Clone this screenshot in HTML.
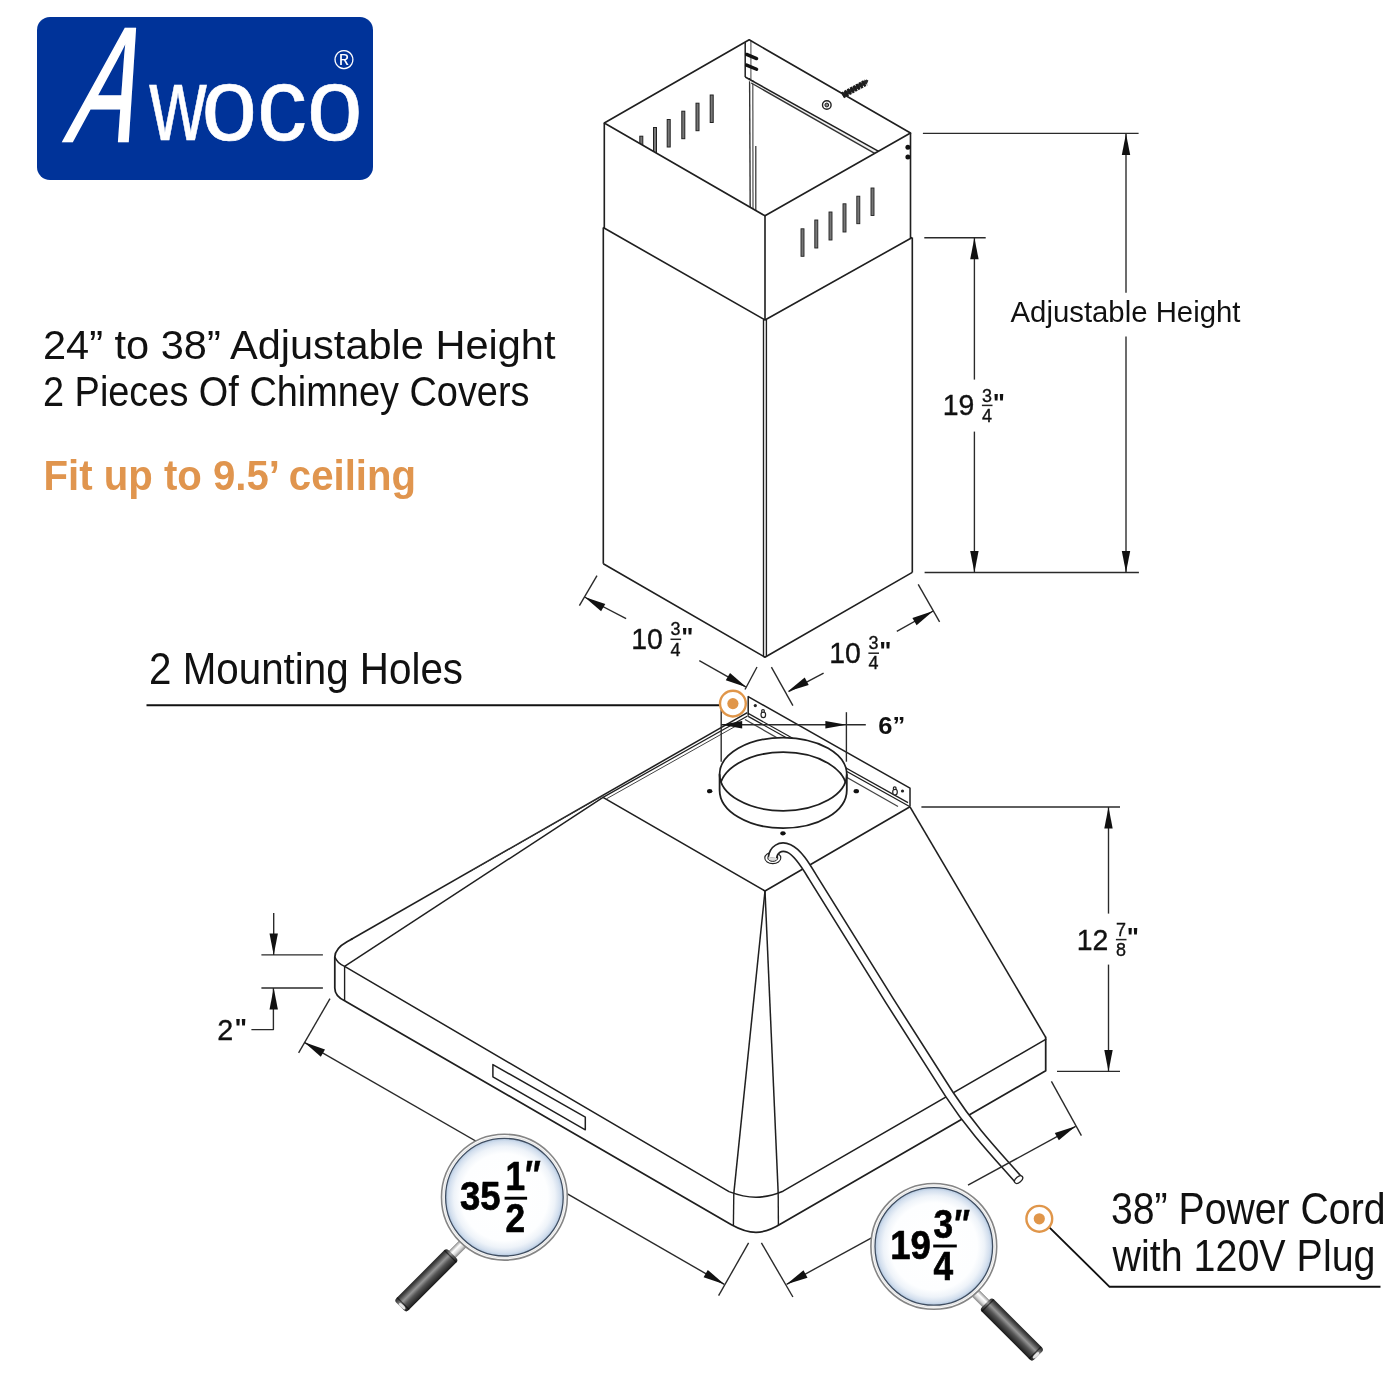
<!DOCTYPE html>
<html lang="en">
<head>
<meta charset="utf-8">
<title>Awoco Range Hood Dimensions</title>
<style>
html,body{margin:0;padding:0;background:#fff;}
body{width:1400px;height:1400px;overflow:hidden;}
svg{display:block;font-family:"Liberation Sans",sans-serif;will-change:transform;}
</style>
</head>
<body>
<svg width="1400" height="1400" viewBox="0 0 1400 1400">
<defs>
<radialGradient id="lens" cx="50%" cy="50%" r="50%">
<stop offset="0" stop-color="#ffffff"/>
<stop offset="0.74" stop-color="#fdfeff"/>
<stop offset="0.86" stop-color="#eef3f9"/>
<stop offset="0.95" stop-color="#d3dfee"/>
<stop offset="1" stop-color="#b3c8e0"/>
</radialGradient>
<linearGradient id="grip1" x1="0" y1="1" x2="0" y2="0">
<stop offset="0" stop-color="#262626"/>
<stop offset="0.16" stop-color="#4a4a4a"/>
<stop offset="0.4" stop-color="#959595"/>
<stop offset="0.62" stop-color="#555555"/>
<stop offset="0.88" stop-color="#2c2c2c"/>
<stop offset="1" stop-color="#181818"/>
</linearGradient>
<linearGradient id="grip2" x1="0" y1="0" x2="0" y2="1">
<stop offset="0" stop-color="#262626"/>
<stop offset="0.16" stop-color="#4a4a4a"/>
<stop offset="0.4" stop-color="#959595"/>
<stop offset="0.62" stop-color="#555555"/>
<stop offset="0.88" stop-color="#2c2c2c"/>
<stop offset="1" stop-color="#181818"/>
</linearGradient>
<linearGradient id="neck1" x1="0" y1="1" x2="0" y2="0">
<stop offset="0" stop-color="#9a9a9a"/>
<stop offset="0.35" stop-color="#ffffff"/>
<stop offset="0.7" stop-color="#d8d8d8"/>
<stop offset="1" stop-color="#8a8a8a"/>
</linearGradient>
<linearGradient id="neck2" x1="0" y1="0" x2="0" y2="1">
<stop offset="0" stop-color="#9a9a9a"/>
<stop offset="0.35" stop-color="#ffffff"/>
<stop offset="0.7" stop-color="#d8d8d8"/>
<stop offset="1" stop-color="#8a8a8a"/>
</linearGradient>
<clipPath id="clipTopOpen"><polygon points="604.3,123 749.2,39.8 910.5,133 765,215.8"/></clipPath>
<clipPath id="clipTopEll"><ellipse cx="783.2" cy="774.2" rx="63.6" ry="36.6"/></clipPath>
</defs>
<rect x="0" y="0" width="1400" height="1400" fill="#ffffff"/>
<rect x="37" y="17" width="336" height="163" rx="13" ry="13" fill="#003399"/>
<g fill="#ffffff" aria-label="Awoco"><text transform="translate(63,141) skewX(-17) scale(0.6,1)" font-size="163" x="0" y="0" stroke="#ffffff" stroke-width="2.4">A</text><text x="149.5" y="140" font-size="104" stroke="#ffffff" stroke-width="0.6"><tspan textLength="57" lengthAdjust="spacingAndGlyphs">w</tspan><tspan dx="-5" textLength="161" lengthAdjust="spacingAndGlyphs">oco</tspan></text></g>
<text x="344" y="69.4" font-size="27" fill="#ffffff" text-anchor="middle">®</text>
<text x="43.0" y="359.2" font-size="40.6" font-weight="normal" font-style="normal" fill="#111" text-anchor="start" textLength="512.5" lengthAdjust="spacingAndGlyphs" >24” to 38” Adjustable Height</text>
<text x="43.0" y="405.6" font-size="42.3" font-weight="normal" font-style="normal" fill="#111" text-anchor="start" textLength="486.5" lengthAdjust="spacingAndGlyphs" >2 Pieces Of Chimney Covers</text>
<text x="43.5" y="490.3" font-size="42.6" font-weight="bold" font-style="normal" fill="#e0954e" text-anchor="start" textLength="372.5" lengthAdjust="spacingAndGlyphs" >Fit up to 9.5’ ceiling</text>
<text x="149.0" y="683.6" font-size="43.6" font-weight="normal" font-style="normal" fill="#111" text-anchor="start" textLength="314.0" lengthAdjust="spacingAndGlyphs" >2 Mounting Holes</text>
<text x="1111.0" y="1223.8" font-size="43.6" font-weight="normal" font-style="normal" fill="#111" text-anchor="start" textLength="274.5" lengthAdjust="spacingAndGlyphs" >38” Power Cord</text>
<text x="1112.5" y="1270.7" font-size="43.6" font-weight="normal" font-style="normal" fill="#111" text-anchor="start" textLength="263.0" lengthAdjust="spacingAndGlyphs" >with 120V Plug</text>
<text x="1010.5" y="322.3" font-size="29.3" font-weight="normal" font-style="normal" fill="#111" text-anchor="start" textLength="230.0" lengthAdjust="spacingAndGlyphs" >Adjustable Height</text>
<g clip-path="url(#clipTopOpen)">
<rect x="639.8" y="136.2" width="3" height="27.5" fill="#777" stroke="#222" stroke-width="1"/>
<rect x="653.5" y="127.5" width="3" height="27.5" fill="#777" stroke="#222" stroke-width="1"/>
<rect x="667.2" y="119.5" width="3" height="27.5" fill="#777" stroke="#222" stroke-width="1"/>
<rect x="681.8" y="111.2" width="3" height="27.5" fill="#777" stroke="#222" stroke-width="1"/>
<rect x="696.0" y="103.2" width="3" height="27.5" fill="#777" stroke="#222" stroke-width="1"/>
<rect x="710.2" y="95.0" width="3" height="27.5" fill="#777" stroke="#222" stroke-width="1"/>
<line x1="749.6" y1="78.0" x2="750.2" y2="212.0" stroke="#333" stroke-width="1.38" />
<line x1="752.8" y1="80.0" x2="753.0" y2="212.0" stroke="#555" stroke-width="1.25" />
<line x1="755.8" y1="146.0" x2="755.8" y2="212.0" stroke="#333" stroke-width="1.25" />
<line x1="750.9" y1="41.0" x2="750.9" y2="80.0" stroke="#555" stroke-width="1.12" />
<polygon points="745.2,77 879,151.6 874.4,153.4 751.2,83" fill="#f1f1f1"/>
<line x1="745.2" y1="77.0" x2="880.0" y2="152.1" stroke="#1f1f1f" stroke-width="1.5" />
<line x1="751.2" y1="83.0" x2="876.0" y2="154.2" stroke="#333" stroke-width="1.38" />
</g>
<line x1="745.2" y1="42.2" x2="745.2" y2="77.0" stroke="#1f1f1f" stroke-width="1.5" />
<line x1="746.6" y1="54.4" x2="756.6" y2="58.6" stroke="#111" stroke-width="3.38" stroke-linecap="round"/>
<line x1="746.6" y1="65.1" x2="756.6" y2="69.3" stroke="#111" stroke-width="3.38" stroke-linecap="round"/>
<circle cx="826.8" cy="105" r="4.3" fill="#fff" stroke="#222" stroke-width="1.4"/>
<circle cx="826.8" cy="105" r="1.9" fill="#888" stroke="#222" stroke-width="1"/>
<polygon points="841.5,93.6 866.5,79.6 868.4,80.6 867.2,83.6 843.6,97.2" fill="#2a2a2a"/>
<line x1="842.5" y1="95.4" x2="866.0" y2="82.4" stroke="#1c1c1c" stroke-width="6.5" stroke-dasharray="2.4 0.9"/>
<polygon points="604.3,123.0 749.2,39.8 910.5,133.0 765.0,215.8" fill="none" stroke="#1f1f1f" stroke-width="1.62" stroke-linejoin="round" />
<line x1="604.3" y1="123.0" x2="604.3" y2="228.0" stroke="#1f1f1f" stroke-width="1.62" />
<line x1="765.0" y1="215.8" x2="765.0" y2="320.0" stroke="#1f1f1f" stroke-width="1.62" />
<line x1="910.5" y1="133.0" x2="910.5" y2="238.0" stroke="#1f1f1f" stroke-width="1.62" />
<polyline points="603.2,227.5 765.0,320.0 912.2,237.5" fill="none" stroke="#1f1f1f" stroke-width="1.62" stroke-linejoin="round" />
<line x1="603.3" y1="227.5" x2="603.3" y2="563.7" stroke="#1f1f1f" stroke-width="1.62" />
<line x1="912.3" y1="237.5" x2="912.3" y2="572.4" stroke="#1f1f1f" stroke-width="1.62" />
<line x1="763.5" y1="320.0" x2="763.5" y2="656.5" stroke="#1f1f1f" stroke-width="1.38" />
<line x1="766.4" y1="320.0" x2="766.4" y2="656.5" stroke="#1f1f1f" stroke-width="1.38" />
<polyline points="603.3,563.7 764.9,657.2 912.3,572.4" fill="none" stroke="#1f1f1f" stroke-width="1.62" stroke-linejoin="round" />
<rect x="801.0" y="228.8" width="3" height="27.5" fill="#777" stroke="#222" stroke-width="0.9"/>
<rect x="814.8" y="220.0" width="3" height="28.0" fill="#777" stroke="#222" stroke-width="0.9"/>
<rect x="829.0" y="212.0" width="3" height="28.0" fill="#777" stroke="#222" stroke-width="0.9"/>
<rect x="843.0" y="203.8" width="3" height="28.2" fill="#777" stroke="#222" stroke-width="0.9"/>
<rect x="856.8" y="196.2" width="3" height="27.5" fill="#777" stroke="#222" stroke-width="0.9"/>
<rect x="871.0" y="188.0" width="3" height="27.5" fill="#777" stroke="#222" stroke-width="0.9"/>
<circle cx="907.9" cy="147.2" r="2.5" fill="#111"/>
<circle cx="907.9" cy="156.9" r="2.5" fill="#111"/>
<line x1="922.9" y1="133.4" x2="1138.6" y2="133.4" stroke="#2a2a2a" stroke-width="1.38" />
<line x1="924.6" y1="572.5" x2="1138.9" y2="572.5" stroke="#2a2a2a" stroke-width="1.38" />
<line x1="1126.0" y1="133.4" x2="1126.0" y2="292.8" stroke="#2a2a2a" stroke-width="1.38" />
<line x1="1126.0" y1="336.6" x2="1126.0" y2="572.5" stroke="#2a2a2a" stroke-width="1.38" />
<polygon points="1126.0,133.4 1130.2,154.9 1121.8,154.9" fill="#111"/>
<polygon points="1126.0,572.5 1121.8,551.0 1130.2,551.0" fill="#111"/>
<line x1="924.3" y1="237.7" x2="985.7" y2="237.7" stroke="#2a2a2a" stroke-width="1.38" />
<line x1="974.4" y1="237.7" x2="974.4" y2="379.6" stroke="#2a2a2a" stroke-width="1.38" />
<line x1="974.4" y1="431.6" x2="974.4" y2="572.5" stroke="#2a2a2a" stroke-width="1.38" />
<polygon points="974.4,237.7 978.6,259.2 970.2,259.2" fill="#111"/>
<polygon points="974.4,572.5 970.2,551.0 978.6,551.0" fill="#111"/>
<g stroke="#111" stroke-width="0.35">
<text x="942.7" y="415.4" font-size="30" font-weight="normal" font-style="normal" fill="#111" text-anchor="start" textLength="31.6" lengthAdjust="spacingAndGlyphs" >19</text>
<text x="981.9" y="401.5" font-size="18.2" font-weight="normal" font-style="normal" fill="#111" text-anchor="start" textLength="10.0" lengthAdjust="spacingAndGlyphs" >3</text>
<text x="981.9" y="421.6" font-size="18.2" font-weight="normal" font-style="normal" fill="#111" text-anchor="start" textLength="10.0" lengthAdjust="spacingAndGlyphs" >4</text>
</g>
<line x1="981.9" y1="405.4" x2="992.5" y2="405.4" stroke="#222" stroke-width="1.5" />
<text x="992.7" y="412.2" font-size="25.6" font-weight="bold" font-style="normal" fill="#111" text-anchor="start" textLength="12.2" lengthAdjust="spacingAndGlyphs" >&quot;</text>
<line x1="597.0" y1="575.7" x2="579.4" y2="605.7" stroke="#2a2a2a" stroke-width="1.38" />
<line x1="584.5" y1="597.0" x2="626.1" y2="618.6" stroke="#2a2a2a" stroke-width="1.38" />
<polygon points="584.5,597.0 605.3,604.0 601.1,611.3" fill="#111"/>
<line x1="699.3" y1="660.7" x2="745.7" y2="686.8" stroke="#2a2a2a" stroke-width="1.38" />
<polygon points="746.5,687.3 725.8,680.2 730.0,672.9" fill="#111"/>
<line x1="757.0" y1="667.0" x2="745.0" y2="689.5" stroke="#2a2a2a" stroke-width="1.38" />
<g stroke="#111" stroke-width="0.35">
<text x="631.3" y="649.3" font-size="30" font-weight="normal" font-style="normal" fill="#111" text-anchor="start" textLength="31.6" lengthAdjust="spacingAndGlyphs" >10</text>
<text x="670.5" y="635.4" font-size="18.2" font-weight="normal" font-style="normal" fill="#111" text-anchor="start" textLength="10.0" lengthAdjust="spacingAndGlyphs" >3</text>
<text x="670.5" y="655.5" font-size="18.2" font-weight="normal" font-style="normal" fill="#111" text-anchor="start" textLength="10.0" lengthAdjust="spacingAndGlyphs" >4</text>
</g>
<line x1="670.5" y1="639.3" x2="681.1" y2="639.3" stroke="#222" stroke-width="1.5" />
<text x="681.3" y="646.1" font-size="25.6" font-weight="bold" font-style="normal" fill="#111" text-anchor="start" textLength="12.2" lengthAdjust="spacingAndGlyphs" >&quot;</text>
<line x1="918.2" y1="584.3" x2="939.6" y2="621.8" stroke="#2a2a2a" stroke-width="1.38" />
<line x1="933.2" y1="611.0" x2="896.8" y2="631.4" stroke="#2a2a2a" stroke-width="1.38" />
<polygon points="933.2,611.0 916.6,625.3 912.4,618.0" fill="#111"/>
<line x1="823.6" y1="673.2" x2="788.6" y2="691.6" stroke="#2a2a2a" stroke-width="1.38" />
<polygon points="787.8,691.6 804.7,677.6 808.7,685.0" fill="#111"/>
<line x1="771.4" y1="667.1" x2="792.9" y2="705.7" stroke="#2a2a2a" stroke-width="1.38" />
<g stroke="#111" stroke-width="0.35">
<text x="829.2" y="663.2" font-size="30" font-weight="normal" font-style="normal" fill="#111" text-anchor="start" textLength="31.6" lengthAdjust="spacingAndGlyphs" >10</text>
<text x="868.4" y="649.3" font-size="18.2" font-weight="normal" font-style="normal" fill="#111" text-anchor="start" textLength="10.0" lengthAdjust="spacingAndGlyphs" >3</text>
<text x="868.4" y="669.4" font-size="18.2" font-weight="normal" font-style="normal" fill="#111" text-anchor="start" textLength="10.0" lengthAdjust="spacingAndGlyphs" >4</text>
</g>
<line x1="868.4" y1="653.2" x2="879.0" y2="653.2" stroke="#222" stroke-width="1.5" />
<text x="879.2" y="660.0" font-size="25.6" font-weight="bold" font-style="normal" fill="#111" text-anchor="start" textLength="12.2" lengthAdjust="spacingAndGlyphs" >&quot;</text>
<line x1="351.0" y1="939.5" x2="747.3" y2="712.6" stroke="#1f1f1f" stroke-width="1.56" />
<line x1="470.0" y1="871.5" x2="603.0" y2="795.6" stroke="#333" stroke-width="1.0" />
<line x1="344.6" y1="966.4" x2="603.0" y2="797.4" stroke="#1f1f1f" stroke-width="1.5" />
<polyline points="603.0,797.4 765.0,891.0 910.0,806.8" fill="none" stroke="#1f1f1f" stroke-width="1.62" stroke-linejoin="round" />
<line x1="603.0" y1="797.4" x2="747.5" y2="716.0" stroke="#1f1f1f" stroke-width="1.25" />
<line x1="606.5" y1="798.8" x2="742.0" y2="722.6" stroke="#444" stroke-width="1.0" />
<polyline points="748.2,715.8 748.2,696.6 910.0,788.2 910.0,806.6" fill="none" stroke="#1f1f1f" stroke-width="1.5" stroke-linejoin="round" />
<line x1="748.2" y1="713.4" x2="908.0" y2="802.6" stroke="#1f1f1f" stroke-width="1.25" />
<line x1="748.2" y1="716.4" x2="910.0" y2="806.8" stroke="#1f1f1f" stroke-width="1.25" />
<line x1="745.0" y1="719.5" x2="898.0" y2="806.5" stroke="#444" stroke-width="1.25" />
<ellipse cx="763.3" cy="714.8000000000001" rx="2.3" ry="2.9" fill="#fff" stroke="#222" stroke-width="1.2"/>
<circle cx="763.0" cy="711.0" r="1.4" fill="#fff" stroke="#222" stroke-width="1.2"/>
<ellipse cx="895" cy="792.1" rx="2.3" ry="2.9" fill="#fff" stroke="#222" stroke-width="1.2"/>
<circle cx="894.7" cy="788.3" r="1.4" fill="#fff" stroke="#222" stroke-width="1.2"/>
<circle cx="755.3" cy="705.6" r="1.6" fill="#222"/>
<circle cx="902.5" cy="791" r="1.6" fill="#222"/>
<ellipse cx="709.7" cy="791.2" rx="2.7" ry="2.1" fill="#111"/>
<ellipse cx="856.3" cy="791.2" rx="2.7" ry="2.1" fill="#111"/>
<ellipse cx="783" cy="833.3" rx="2.7" ry="2.1" fill="#111"/>
<ellipse cx="783.2" cy="774.2" rx="63.6" ry="36.6" fill="#fff" stroke="#1f1f1f" stroke-width="1.8"/>
<g clip-path="url(#clipTopEll)"><ellipse cx="783.2" cy="790.2" rx="63.6" ry="38" fill="none" stroke="#1f1f1f" stroke-width="1.8"/></g>
<path d="M 719.6,774.2 L 719.6,790.2 A 63.6 38 0 0 0 846.8,790.2 L 846.8,774.2" fill="none" stroke="#1f1f1f" stroke-width="1.8"/>
<line x1="765.0" y1="891.0" x2="733.8" y2="1193.6" stroke="#1f1f1f" stroke-width="1.5" />
<line x1="765.0" y1="891.0" x2="778.2" y2="1193.2" stroke="#1f1f1f" stroke-width="1.5" />
<line x1="910.0" y1="806.8" x2="1045.7" y2="1037.3" stroke="#1f1f1f" stroke-width="1.62" />
<path d="M 352,939 L 347,941.8 Q 335.2,948.4 334.8,957 L 334.8,988 Q 334.8,996 344.6,1000.8 L 731,1224.4 C 741,1230 748,1232.3 756,1232.3 C 764,1232.3 771,1230 781,1223.8 L 1045.7,1070.8 L 1045.7,1037.3" fill="none" stroke="#1f1f1f" stroke-width="1.75" stroke-linejoin="round" stroke-linecap="round" />
<path d="M 334.9,957 Q 337,963 344.6,966.4 L 729,1191.6 C 740,1195.8 748,1197.2 756,1197.2 C 764,1197.2 772,1195.8 783,1191.2 L 1045.7,1039.4" fill="none" stroke="#1f1f1f" stroke-width="1.5" stroke-linejoin="round" stroke-linecap="round" />
<line x1="344.6" y1="966.4" x2="344.6" y2="1000.8" stroke="#1f1f1f" stroke-width="1.38" />
<line x1="733.8" y1="1193.6" x2="733.4" y2="1225.6" stroke="#1f1f1f" stroke-width="1.38" />
<line x1="778.2" y1="1193.2" x2="778.4" y2="1225.0" stroke="#1f1f1f" stroke-width="1.38" />
<polygon points="492.9,1064.6 585.3,1117.2 585.3,1129.8 492.9,1076.8" fill="none" stroke="#1f1f1f" stroke-width="1.5" stroke-linejoin="round" />
<ellipse cx="772.8" cy="858" rx="8" ry="5.6" fill="#fff" stroke="#222" stroke-width="1.1"/>
<ellipse cx="772.8" cy="858" rx="5" ry="3.4" fill="#ddd" stroke="#222" stroke-width="1"/>
<path d="M 772.5,857.5 C 773.5,850 780,844.5 789,848.5 C 798,852.5 806,866 812,876 L 890,1001.4 L 949.3,1094.3 C 972,1129 995,1153 1017.5,1178.5" fill="none" stroke="#222" stroke-width="10" stroke-linecap="butt"/>
<path d="M 772.5,857.5 C 773.5,850 780,844.5 789,848.5 C 798,852.5 806,866 812,876 L 890,1001.4 L 949.3,1094.3 C 972,1129 995,1153 1017.5,1178.5" fill="none" stroke="#fff" stroke-width="6.8" stroke-linecap="butt"/>
<ellipse cx="1018.6" cy="1179.6" rx="4.8" ry="2.8" transform="rotate(-40 1018.6 1179.6)" fill="#fff" stroke="#222" stroke-width="1.3"/>
<line x1="721.2" y1="709.9" x2="721.2" y2="761.7" stroke="#2a2a2a" stroke-width="1.38" />
<line x1="846.4" y1="712.2" x2="846.4" y2="761.7" stroke="#2a2a2a" stroke-width="1.38" />
<line x1="721.2" y1="724.8" x2="865.8" y2="724.8" stroke="#2a2a2a" stroke-width="1.38" />
<polygon points="721.2,724.8 742.2,721.0 742.2,728.6" fill="#111"/>
<polygon points="846.4,724.8 825.4,728.6 825.4,721.0" fill="#111"/>
<text x="878.2" y="733.6" font-size="23.5" font-weight="bold" font-style="normal" fill="#111" text-anchor="start" textLength="27.0" lengthAdjust="spacingAndGlyphs" >6”</text>
<line x1="921.4" y1="807.0" x2="1120.0" y2="807.0" stroke="#2a2a2a" stroke-width="1.38" />
<line x1="1057.0" y1="1071.4" x2="1120.0" y2="1071.4" stroke="#2a2a2a" stroke-width="1.38" />
<line x1="1108.5" y1="807.0" x2="1108.5" y2="913.6" stroke="#2a2a2a" stroke-width="1.38" />
<line x1="1108.5" y1="964.6" x2="1108.5" y2="1071.4" stroke="#2a2a2a" stroke-width="1.38" />
<polygon points="1108.5,807.0 1112.7,828.5 1104.3,828.5" fill="#111"/>
<polygon points="1108.5,1071.4 1104.3,1049.9 1112.7,1049.9" fill="#111"/>
<g stroke="#111" stroke-width="0.35">
<text x="1076.7" y="949.6" font-size="30" font-weight="normal" font-style="normal" fill="#111" text-anchor="start" textLength="31.6" lengthAdjust="spacingAndGlyphs" >12</text>
<text x="1115.9" y="935.7" font-size="18.2" font-weight="normal" font-style="normal" fill="#111" text-anchor="start" textLength="10.0" lengthAdjust="spacingAndGlyphs" >7</text>
<text x="1115.9" y="955.8" font-size="18.2" font-weight="normal" font-style="normal" fill="#111" text-anchor="start" textLength="10.0" lengthAdjust="spacingAndGlyphs" >8</text>
</g>
<line x1="1115.9" y1="939.6" x2="1126.5" y2="939.6" stroke="#222" stroke-width="1.5" />
<text x="1126.7" y="946.4" font-size="25.6" font-weight="bold" font-style="normal" fill="#111" text-anchor="start" textLength="12.2" lengthAdjust="spacingAndGlyphs" >&quot;</text>
<line x1="261.4" y1="954.9" x2="322.9" y2="954.9" stroke="#2a2a2a" stroke-width="1.38" />
<line x1="261.4" y1="988.0" x2="322.9" y2="988.0" stroke="#2a2a2a" stroke-width="1.38" />
<line x1="273.7" y1="912.9" x2="273.7" y2="954.9" stroke="#2a2a2a" stroke-width="1.38" />
<polygon points="273.7,954.9 269.5,933.4 277.9,933.4" fill="#111"/>
<polyline points="273.4,988.0 273.4,1029.6 251.4,1029.6" fill="none" stroke="#2a2a2a" stroke-width="1.38" stroke-linejoin="round" />
<polygon points="273.7,988.0 277.9,1009.5 269.5,1009.5" fill="#111"/>
<g stroke="#111" stroke-width="0.35">
<text x="217.2" y="1040.4" font-size="30" font-weight="normal" font-style="normal" fill="#111" text-anchor="start" textLength="16.0" lengthAdjust="spacingAndGlyphs" >2</text>
</g>
<text x="234.6" y="1037.0" font-size="25.6" font-weight="bold" font-style="normal" fill="#111" text-anchor="start" textLength="12.6" lengthAdjust="spacingAndGlyphs" >&quot;</text>
<line x1="330.0" y1="998.6" x2="298.6" y2="1052.9" stroke="#2a2a2a" stroke-width="1.38" />
<line x1="304.3" y1="1042.3" x2="724.3" y2="1284.3" stroke="#2a2a2a" stroke-width="1.38" />
<polygon points="304.3,1042.3 325.0,1049.4 320.8,1056.7" fill="#111"/>
<polygon points="724.3,1284.3 703.6,1277.2 707.8,1269.9" fill="#111"/>
<line x1="748.6" y1="1242.9" x2="718.6" y2="1295.7" stroke="#2a2a2a" stroke-width="1.38" />
<line x1="761.4" y1="1242.9" x2="792.9" y2="1297.0" stroke="#2a2a2a" stroke-width="1.38" />
<line x1="786.6" y1="1284.3" x2="872.0" y2="1237.6" stroke="#2a2a2a" stroke-width="1.38" />
<line x1="968.0" y1="1185.2" x2="1075.7" y2="1126.3" stroke="#2a2a2a" stroke-width="1.38" />
<polygon points="786.6,1284.3 803.5,1270.3 807.5,1277.7" fill="#111"/>
<polygon points="1075.7,1126.3 1058.8,1140.3 1054.8,1132.9" fill="#111"/>
<line x1="1051.4" y1="1081.4" x2="1081.4" y2="1135.7" stroke="#2a2a2a" stroke-width="1.38" />
<line x1="146.5" y1="705.2" x2="719.0" y2="705.2" stroke="#111" stroke-width="1.88" />
<circle cx="732.9" cy="703.6" r="12.9" fill="#fff" stroke="#e0964a" stroke-width="2.4"/>
<circle cx="732.9" cy="703.6" r="5.6" fill="#e0964a"/>
<polyline points="1049.6,1227.6 1109.6,1286.8 1380.5,1286.8" fill="none" stroke="#111" stroke-width="1.88" stroke-linejoin="round" />
<circle cx="1039.3" cy="1218.8" r="12.9" fill="#fff" stroke="#e0964a" stroke-width="2.4"/>
<circle cx="1039.3" cy="1218.8" r="5.6" fill="#e0964a"/>
<g transform="translate(504.4,1197.2) rotate(135)">
<rect x="60" y="-8.20" width="20" height="9.2" fill="url(#neck1)" stroke="#8a8a8a" stroke-width="0.7"/>
<rect x="77" y="-12.20" width="74" height="17.2" rx="3.2" ry="3.2" fill="url(#grip1)"/>
<rect x="79.3" y="-12.20" width="1.3" height="17.2" fill="#000" opacity="0.55"/>
<rect x="146.2" y="-12.20" width="1.3" height="17.2" fill="#000" opacity="0.55"/>
<ellipse cx="149.3" cy="-4.80" rx="1.5" ry="4.2" fill="#f0f0f0" opacity="0.92"/>
</g>
<circle cx="504.4" cy="1197.2" r="62.9" fill="#fcfcfc" stroke="#858585" stroke-width="1.6"/>
<circle cx="504.4" cy="1197.2" r="60.6" fill="none" stroke="#e6e6e6" stroke-width="1.2"/>
<circle cx="504.4" cy="1197.2" r="58.8" fill="url(#lens)" stroke="#3f4d60" stroke-width="1.3"/>
<g stroke="#000" stroke-width="0.7" stroke-linejoin="round">
<text x="459.9" y="1210.0" font-size="40.6" font-weight="bold" font-style="normal" fill="#000" text-anchor="start" textLength="40.6" lengthAdjust="spacingAndGlyphs" >35</text>
<text x="505.6" y="1189.6" font-size="40.2" font-weight="bold" font-style="normal" fill="#000" text-anchor="start" textLength="19.6" lengthAdjust="spacingAndGlyphs" >1</text>
<text x="505.6" y="1232.1" font-size="40.2" font-weight="bold" font-style="normal" fill="#000" text-anchor="start" textLength="19.6" lengthAdjust="spacingAndGlyphs" >2</text>
</g>
<line x1="504.6" y1="1198.2" x2="527.1" y2="1198.2" stroke="#000" stroke-width="2.88" />
<text x="523.3" y="1189.2" font-size="41" font-weight="bold" font-style="italic" fill="#000" stroke="#000" stroke-width="0.5" textLength="15.8" lengthAdjust="spacingAndGlyphs">″</text>
<g transform="translate(933.8,1246.4) rotate(45)">
<rect x="60" y="-1.00" width="20" height="9.2" fill="url(#neck2)" stroke="#8a8a8a" stroke-width="0.7"/>
<rect x="77" y="-5.00" width="74" height="17.2" rx="3.2" ry="3.2" fill="url(#grip2)"/>
<rect x="79.3" y="-5.00" width="1.3" height="17.2" fill="#000" opacity="0.55"/>
<rect x="146.2" y="-5.00" width="1.3" height="17.2" fill="#000" opacity="0.55"/>
<ellipse cx="149.3" cy="4.80" rx="1.5" ry="4.2" fill="#f0f0f0" opacity="0.92"/>
</g>
<circle cx="933.8" cy="1246.4" r="62.9" fill="#fcfcfc" stroke="#858585" stroke-width="1.6"/>
<circle cx="933.8" cy="1246.4" r="60.6" fill="none" stroke="#e6e6e6" stroke-width="1.2"/>
<circle cx="933.8" cy="1246.4" r="58.8" fill="url(#lens)" stroke="#3f4d60" stroke-width="1.3"/>
<g stroke="#000" stroke-width="0.7" stroke-linejoin="round">
<text x="890.2" y="1258.9" font-size="40.6" font-weight="bold" font-style="normal" fill="#000" text-anchor="start" textLength="40.6" lengthAdjust="spacingAndGlyphs" >19</text>
<text x="933.6" y="1237.5" font-size="40.2" font-weight="bold" font-style="normal" fill="#000" text-anchor="start" textLength="19.6" lengthAdjust="spacingAndGlyphs" >3</text>
<text x="933.6" y="1280.0" font-size="40.2" font-weight="bold" font-style="normal" fill="#000" text-anchor="start" textLength="19.6" lengthAdjust="spacingAndGlyphs" >4</text>
</g>
<line x1="933.2" y1="1246.0" x2="956.8" y2="1246.0" stroke="#000" stroke-width="2.88" />
<text x="952.6" y="1237.5" font-size="41" font-weight="bold" font-style="italic" fill="#000" stroke="#000" stroke-width="0.5" textLength="15.8" lengthAdjust="spacingAndGlyphs">″</text>
</svg>
</body>
</html>
